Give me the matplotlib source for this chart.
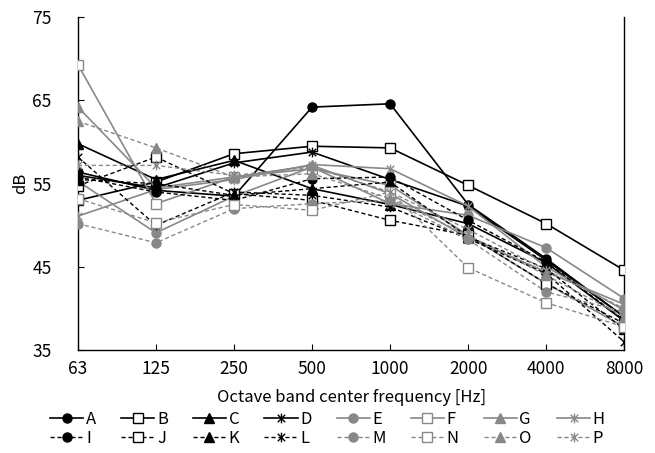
import matplotlib
matplotlib.use("Agg")
import matplotlib.pyplot as plt
from matplotlib.path import Path

plt.rcParams['font.family'] = ['Noto Sans CJK JP', 'DejaVu Sans']

freqs = ["63", "125", "250", "500", "1000", "2000", "4000", "8000"]

A = [56.4, 54.2, 53.5, 64.2, 64.6, 52.5, 46.0, 39.0]
B = [53.0, 55.2, 58.6, 59.5, 59.3, 54.8, 50.2, 44.6]
C = [59.8, 55.5, 57.8, 54.4, 52.5, 50.2, 45.5, 38.5]
D = [56.0, 54.5, 57.5, 58.8, 55.5, 52.3, 45.8, 39.0]
E = [55.3, 49.1, 53.5, 57.0, 52.6, 51.2, 47.3, 41.2]
F = [69.3, 52.6, 55.8, 56.8, 54.8, 48.8, 43.0, 37.8]
G = [64.2, 54.5, 55.8, 57.2, 53.8, 48.5, 44.4, 40.5]
H = [51.1, 54.3, 55.5, 57.3, 56.8, 52.3, 45.0, 39.8]
I = [55.8, 54.0, 53.0, 55.6, 55.8, 50.6, 45.6, 38.6]
J = [54.75, 58.2, 53.8, 53.0, 50.6, 48.8, 43.0, 38.2]
K = [55.5, 55.0, 53.6, 54.4, 55.2, 48.6, 44.8, 37.5]
L = [58.2, 50.0, 54.0, 53.6, 52.2, 48.4, 44.2, 36.0]
M = [50.2, 47.9, 52.0, 52.6, 53.0, 48.3, 42.0, 39.6]
N = [53.2, 50.3, 52.5, 51.8, 54.0, 44.9, 40.7, 37.8]
O = [62.5, 59.3, 55.8, 56.2, 53.2, 48.8, 44.0, 39.0]
P = [57.2, 57.2, 56.0, 57.0, 54.0, 49.5, 44.6, 40.0]

names = list("ABCDEFGHIJKLMNOP")
series = [A, B, C, D, E, F, G, H, I, J, K, L, M, N, O, P]

# asterisk marker: X plus vertical line
star = Path([(-1, -1), (1, 1), (-1, 1), (1, -1), (0, -1.3), (0, 1.3)],
            [Path.MOVETO, Path.LINETO, Path.MOVETO, Path.LINETO, Path.MOVETO, Path.LINETO])

BLACK = "#000000"
GRAY = "#888888"

fig = plt.figure(figsize=(6.55, 4.53), dpi=100)
ax = fig.add_axes([0.119, 0.227, 0.834, 0.735])

x = list(range(len(freqs)))
handles = []
for i, (nm, ys) in enumerate(zip(names, series)):
    kind = i % 4
    color = BLACK if (i % 8) < 4 else GRAY
    dashed = i >= 8
    ls = (0, (3, 2)) if dashed else "-"
    lw = 1.0 if dashed else 1.2
    if kind == 0:
        mk, mfc, ms, mew = "o", color, 6.5, 1.0
    elif kind == 1:
        mk, mfc, ms, mew = "s", "white", 7, 1.0
    elif kind == 2:
        mk, mfc, ms, mew = "^", color, 6.5, 1.0
    else:
        mk, mfc, ms, mew = star, "none", 7, 1.0
    h, = ax.plot(x, ys, color=color, linestyle=ls, linewidth=lw, marker=mk,
                 markerfacecolor=mfc, markeredgecolor=color, markersize=ms,
                 markeredgewidth=mew, label=nm, zorder=3)
    handles.append(h)

ax.set_xlim(0, len(freqs) - 1)
ax.set_ylim(35, 75)
ax.set_yticks([35, 45, 55, 65, 75])
ax.set_xticks(x)
ax.set_xticklabels(freqs)
ax.tick_params(direction="in", length=4, labelsize=12.5, width=0.8)
ax.tick_params(axis="x", pad=7)
ax.tick_params(axis="y", pad=19)
ax.spines["top"].set_visible(False)
for s in ["left", "bottom", "right"]:
    ax.spines[s].set_linewidth(1.0)
ax.set_xlabel("Octave band center frequency [Hz]", fontsize=12, labelpad=8)
ax.set_ylabel("dB", fontsize=12, labelpad=2)

# legend in column order so rows read A..H and I..P
order = []
for c in range(8):
    order.append(c)
    order.append(c + 8)
fig.legend([handles[k] for k in order], [names[k] for k in order],
           loc="lower center", bbox_to_anchor=(0.5, -0.012), ncol=8,
           frameon=False, fontsize=12, handlelength=2.0, handletextpad=0.15,
           columnspacing=1.5, labelspacing=0.12, borderpad=0.2)

fig.savefig("out.png", dpi=100)
